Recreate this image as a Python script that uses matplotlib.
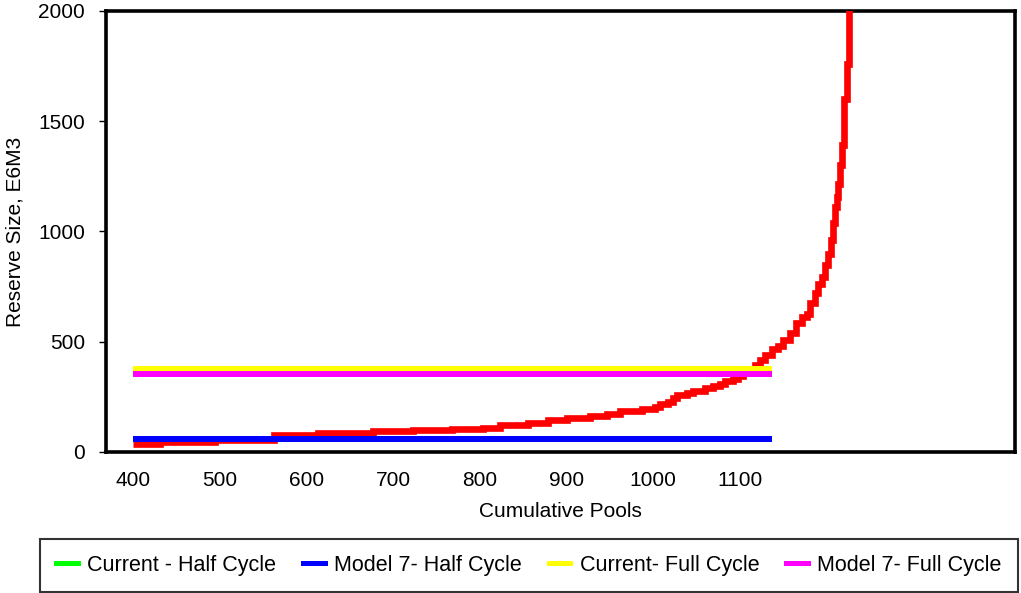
import matplotlib
matplotlib.use('Agg')
import matplotlib.pyplot as plt
from matplotlib.lines import Line2D

plt.rcParams['font.family'] = ['Liberation Sans', 'DejaVu Sans']

# cumulative pools vs reserve size (step curve)
pools = [400, 431, 495, 563, 613, 677, 723, 768, 804, 823, 856, 879, 901, 927,
         947, 962, 987, 1002, 1008, 1017, 1023, 1027, 1039, 1046, 1060, 1069,
         1077, 1083, 1092, 1098, 1104, 1112, 1117, 1123, 1129, 1137, 1144, 1149,
         1158, 1164, 1172, 1177, 1181, 1187, 1190, 1195, 1198, 1202, 1205, 1207,
         1210, 1212, 1213, 1215, 1218, 1220, 1223, 1226, 1228]
reserve = [38, 44, 55, 79, 86, 95, 100, 106, 111, 122, 131, 143, 154, 163,
           172, 184, 195, 206, 218, 227, 245, 258, 268, 277, 290, 300,
           310, 320, 332, 345, 358, 375, 395, 415, 440, 465, 480, 510,
           540, 585, 610, 625, 675, 720, 760, 795, 850, 900, 960, 1040,
           1110, 1155, 1215, 1300, 1390, 1600, 1760, 2100, 2100]

line_x = [400, 1137]
current_half = [59, 59]
model7_half = [59, 59]
current_full = [376, 376]
model7_full = [354, 354]

labels = ['Current - Half Cycle', 'Model 7- Half Cycle', 'Current- Full Cycle', 'Model 7- Full Cycle']
colors = ['#00ff00', '#0000ff', '#ffff00', '#ff00ff']

fig = plt.figure(figsize=(10.21, 5.93), dpi=100)
ax = fig.add_axes([0.1038, 0.2378, 0.8903, 0.7437])

ax.plot(pools, reserve, color='#ff0000', linewidth=4.8, drawstyle='steps-post', zorder=3,
        solid_capstyle='butt', solid_joinstyle='miter')
ax.plot(line_x, current_half, color=colors[0], linewidth=4.3, solid_capstyle='butt', zorder=2)
ax.plot(line_x, model7_half, color=colors[1], linewidth=4.3, solid_capstyle='butt', zorder=4)
ax.plot(line_x, current_full, color=colors[2], linewidth=4.3, solid_capstyle='butt', zorder=4)
ax.plot(line_x, model7_full, color=colors[3], linewidth=4.3, solid_capstyle='butt', zorder=4)

ax.set_xlim(369, 1417)
ax.set_ylim(0, 2000)
ax.set_xticks([400, 500, 600, 700, 800, 900, 1000, 1100])
ax.set_yticks([0, 500, 1000, 1500, 2000])
ax.tick_params(axis='x', length=0, labelsize=15, pad=14)
ax.tick_params(axis='y', length=5, width=1, labelsize=15, pad=10)
for s in ax.spines.values():
    s.set_linewidth(2.6)
    s.set_color('black')
ax.set_xlabel('Cumulative Pools', fontsize=15, labelpad=8)
ax.set_ylabel('Reserve Size, E6M3', fontsize=15, labelpad=10)

handles = [Line2D([], [], color=c, linewidth=3.6) for c in colors]
leg = fig.legend(handles, labels, loc='lower left',
                 bbox_to_anchor=(40 / 1021, 1 / 593, 978 / 1021, 51 / 593),
                 mode='expand', ncol=4, handlelength=1.0, handletextpad=0.45,
                 fontsize=15.5, frameon=True, fancybox=False, borderaxespad=0,
                 borderpad=0.75)
leg.get_frame().set_edgecolor('black')
leg.get_frame().set_linewidth(1.5)

fig.savefig('out.png', dpi=100)
